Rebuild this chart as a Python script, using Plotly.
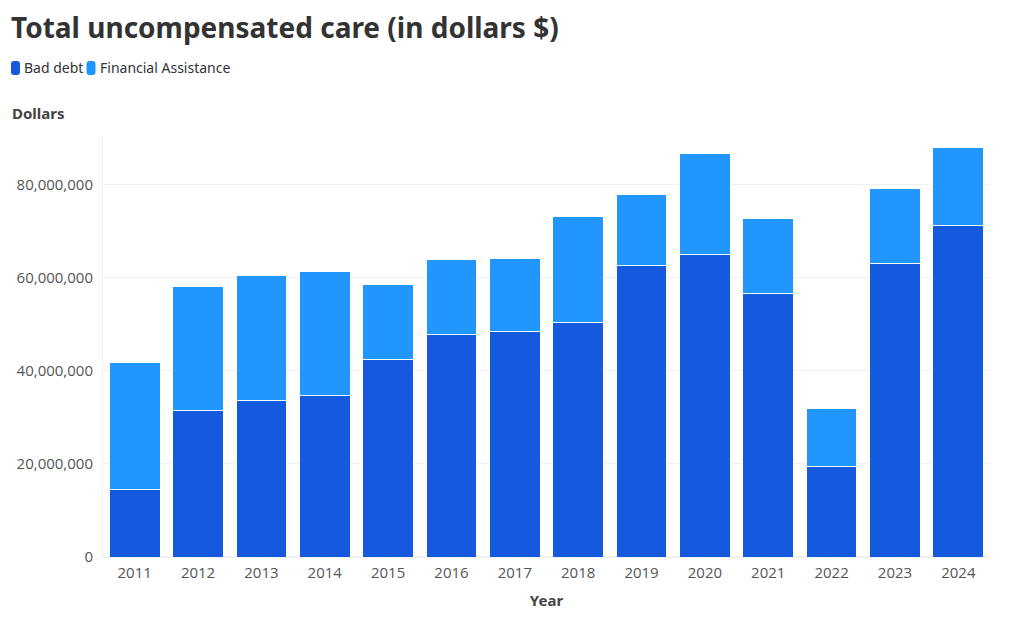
import plotly.graph_objects as go

years = ["2011", "2012", "2013", "2014", "2015", "2016", "2017",
         "2018", "2019", "2020", "2021", "2022", "2023", "2024"]
bad_debt = [14.53e6, 31.42e6, 33.57e6, 34.63e6, 42.43e6, 47.80e6, 48.51e6,
            50.30e6, 62.67e6, 64.90e6, 56.60e6, 19.53e6, 63.10e6, 71.20e6]
financial_assistance = [27.33e6, 26.61e6, 26.82e6, 26.69e6, 16.10e6, 16.03e6, 15.53e6,
                        22.83e6, 15.18e6, 21.68e6, 16.16e6, 12.39e6, 15.97e6, 16.80e6]
y_ticks = [0, 20e6, 40e6, 60e6, 80e6]
y_tick_labels = ["0", "20,000,000", "40,000,000", "60,000,000", "80,000,000"]
series_names = ["Bad debt", "Financial Assistance"]

C_BAD = "#1559DF"
C_FA = "#2196FF"
colors = [C_BAD, C_FA]

W, H = 1020, 631
L, R, T, B = 103, 30, 137, 74
PW, PH = W - L - R, H - T - B


def px_x(x):
    return (x - L) / PW


def px_y(y):
    return (H - B - y) / PH


fig = go.Figure()
fig.add_trace(go.Bar(x=years, y=bad_debt, name=series_names[0], showlegend=False,
                     marker=dict(color=C_BAD, line=dict(color="white", width=1))))
fig.add_trace(go.Bar(x=years, y=financial_assistance, name=series_names[1], showlegend=False,
                     marker=dict(color=C_FA, line=dict(color="white", width=1))))

fig.update_layout(
    barmode="stack",
    bargap=0.2,
    width=W, height=H,
    margin=dict(l=L, r=R, t=T, b=B, autoexpand=False),
    paper_bgcolor="white", plot_bgcolor="white",
    font=dict(family="Open Sans", color="#555", size=14),
    title=dict(text="<b>Total uncompensated care (in dollars $)</b>",
               x=11/W, xanchor="left", xref="container",
               y=1-28/H, yanchor="middle", yref="container",
               font=dict(family="Noto Sans", size=28, color="#333")),
)
fig.update_xaxes(
    type="category", showgrid=False, showline=False,
    ticks="outside", ticklen=2, tickcolor="#eef0f3",
    tickfont=dict(family="Open Sans", size=15, color="#555"),
    title=dict(text="<b>Year</b>", font=dict(family="Noto Sans", size=15, color="#444"), standoff=14),
)
fig.update_yaxes(
    range=[0, 90.2e6], tickvals=y_ticks, ticktext=y_tick_labels,
    showgrid=True, gridcolor="#eef0f3", gridwidth=1,
    showline=True, linecolor="#eef0f3", zeroline=True, zerolinecolor="#eef0f3",
    tickfont=dict(family="Open Sans", size=15, color="#555"),
    ticks="", ticklabelstandoff=6,
)
fig.add_annotation(text="<b>Dollars</b>", xref="paper", yref="paper",
                   x=px_x(10), y=px_y(112.5), xanchor="left", yanchor="middle",
                   showarrow=False, font=dict(family="Noto Sans", size=15, color="#444"))

# custom legend (rounded swatches + labels)
legend_swatch_x = [11, 86.5]
legend_text_x = [22, 98]
sw_w, sw_h, rad = 9, 14, 3
cy = 68
for name, col, sx, tx in zip(series_names, colors, legend_swatch_x, legend_text_x):
    x0, x1 = sx, sx + sw_w
    y0, y1 = cy - sw_h / 2, cy + sw_h / 2
    pts = [
        f"M {px_x(x0 + rad)} {px_y(y0)}",
        f"L {px_x(x1 - rad)} {px_y(y0)}",
        f"Q {px_x(x1)} {px_y(y0)} {px_x(x1)} {px_y(y0 + rad)}",
        f"L {px_x(x1)} {px_y(y1 - rad)}",
        f"Q {px_x(x1)} {px_y(y1)} {px_x(x1 - rad)} {px_y(y1)}",
        f"L {px_x(x0 + rad)} {px_y(y1)}",
        f"Q {px_x(x0)} {px_y(y1)} {px_x(x0)} {px_y(y1 - rad)}",
        f"L {px_x(x0)} {px_y(y0 + rad)}",
        f"Q {px_x(x0)} {px_y(y0)} {px_x(x0 + rad)} {px_y(y0)} Z",
    ]
    fig.add_shape(type="path", path=" ".join(pts), xref="paper", yref="paper",
                  fillcolor=col, line=dict(width=0))
    fig.add_annotation(text=name, xref="paper", yref="paper",
                       x=px_x(tx), y=px_y(cy), xanchor="left", yanchor="middle",
                       showarrow=False, font=dict(family="Noto Sans", size=14, color="#333"))

fig.write_html("out.html", config={"displayModeBar": False},
               post_script="document.body.style.margin='0';")
